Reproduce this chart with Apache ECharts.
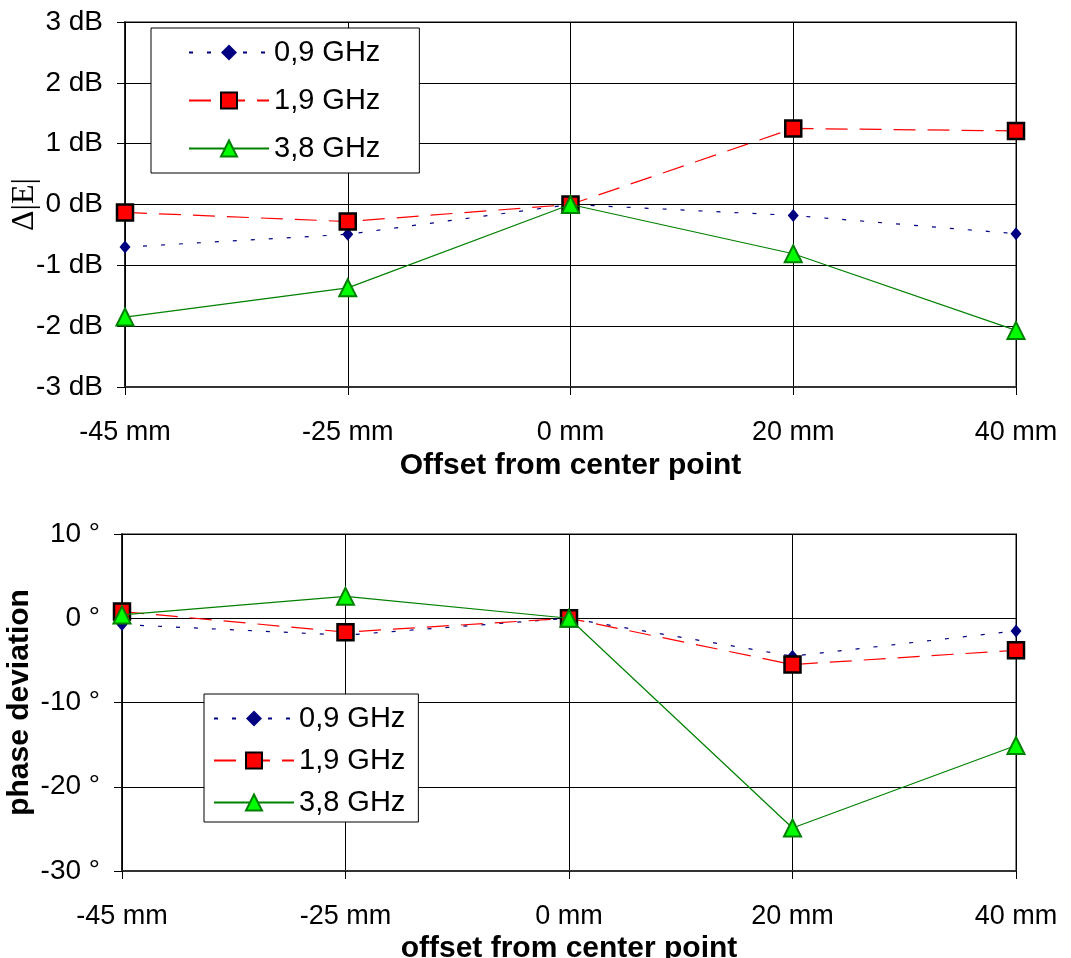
<!DOCTYPE html>
<html>
<head>
<meta charset="utf-8">
<script src="https://cdn.jsdelivr.net/npm/echarts@6/dist/echarts.min.js"></script>
<style>
  html, body { margin: 0; padding: 0; background: #fff; }
  #chart { width: 1071px; height: 958px; }
</style>
</head>
<body>
<div id="chart"></div>
<script>
// offsets from the center point
const offsets = ['-45 mm', '-25 mm', '0 mm', '20 mm', '40 mm'];
const seriesNames = ['0,9 GHz', '1,9 GHz', '3,8 GHz'];

// field magnitude deviation (dB)
const ampl09 = [-0.70, -0.49, 0, -0.18, -0.48];
const ampl19 = [-0.13, -0.28, 0, 1.25, 1.21];
const ampl38 = [-1.85, -1.37, 0, -0.81, -2.07];

// phase deviation (degrees)
const phase09 = [-0.75, -2.0, 0, -4.5, -1.5];
const phase19 = [0.8, -1.65, 0, -5.5, -3.8];
const phase38 = [0.4, 2.6, 0, -24.9, -15.1];

const ampTicks = { min: -3, max: 3, step: 1, unit: ' dB' };
const phaseTicks = { min: -30, max: 10, step: 10, unit: ' °' };

const sans = 'Liberation Sans, Arial, sans-serif';

// line look per frequency
const styles = [
    {
        symbol: 'diamond', symbolSize: [11, 13],
        lineStyle: { color: '#000080', width: 1.2, type: [4, 14] },
        itemStyle: { color: '#000080', borderWidth: 0 }
    },
    {
        symbol: 'rect', symbolSize: 16,
        lineStyle: { color: '#ff0000', width: 1.2, type: [22, 12] },
        itemStyle: { color: '#ff0000', borderColor: '#000', borderWidth: 2.5 }
    },
    {
        symbol: 'triangle', symbolSize: 17,
        lineStyle: { color: '#008000', width: 1.2, type: 'solid' },
        itemStyle: { color: '#00ff00', borderColor: '#008000', borderWidth: 2 }
    }
];

const makeSeries = (data, idx, axis) => Object.assign({
    name: seriesNames[idx],
    type: 'line',
    xAxisIndex: axis,
    yAxisIndex: axis,
    data: data,
    showAllSymbol: true,
    animation: false,
    z: 3 + idx
}, styles[idx]);

const xAxisBase = (idx, title, gap) => ({
    type: 'category',
    gridIndex: idx,
    data: offsets,
    boundaryGap: false,
    axisLine: { onZero: false, lineStyle: { color: '#333', width: 2 } },
    axisTick: { alignWithLabel: true, length: 8, lineStyle: { color: '#000' } },
    axisLabel: { fontSize: 27, fontFamily: sans, color: '#000', margin: 32 },
    splitLine: { show: true, lineStyle: { color: '#000', width: 1 } },
    name: title,
    nameLocation: 'middle',
    nameGap: gap,
    nameMoveOverlap: false,
    nameTextStyle: { fontSize: 30, fontWeight: 'bold', fontFamily: sans, color: '#000' }
});

const yAxisBase = (idx, ticks, nameOpt) => Object.assign({
    type: 'value',
    gridIndex: idx,
    min: ticks.min,
    max: ticks.max,
    interval: ticks.step,
    axisLine: { show: true, lineStyle: { color: '#000', width: 1.5 } },
    axisTick: { show: true, length: 8, lineStyle: { color: '#000' } },
    axisLabel: {
        fontSize: 28, fontFamily: sans, color: '#000', margin: 22,
        formatter: v => v + ticks.unit
    },
    splitLine: { show: true, lineStyle: { color: '#000', width: 1 } },
    nameLocation: 'middle',
    nameRotate: 90,
    nameMoveOverlap: false
}, nameOpt);

const legendBase = (pos) => Object.assign({
    orient: 'vertical',
    data: seriesNames,
    itemWidth: 80,
    itemHeight: 20,
    backgroundColor: '#fff',
    borderColor: '#000',
    borderWidth: 1,
    textStyle: { fontSize: 29, fontFamily: sans, color: '#000' },
    selectedMode: false
}, pos);

const option = {
    backgroundColor: '#fff',
    animation: false,
    grid: [
        { left: 125, right: 55, top: 22, height: 365, show: true, borderColor: '#888', borderWidth: 2,
          containLabel: false, outerBoundsMode: 'none' },
        { left: 122, right: 55, top: 534, height: 337, show: true, borderColor: '#888', borderWidth: 2,
          containLabel: false, outerBoundsMode: 'none' }
    ],
    legend: [
        legendBase({ left: 151, top: 28, padding: [10, 39, 10, 37], itemGap: 19 }),
        legendBase({ left: 204, top: 694, padding: [10, 13, 5, 9], itemGap: 13 })
    ],
    xAxis: [
        xAxisBase(0, 'Offset from center point', 64),
        xAxisBase(1, 'offset from center point', 63)
    ],
    yAxis: [
        yAxisBase(0, ampTicks, {
            name: 'Δ|E|', nameGap: 84,
            nameTextStyle: { fontSize: 32, fontFamily: 'Liberation Serif, Times New Roman, serif', color: '#000' }
        }),
        yAxisBase(1, phaseTicks, {
            name: 'phase deviation', nameGap: 87,
            nameTextStyle: { fontSize: 30, fontWeight: 'bold', fontFamily: sans, color: '#000' }
        })
    ],
    series: [
        makeSeries(ampl09, 0, 0),
        makeSeries(ampl19, 1, 0),
        makeSeries(ampl38, 2, 0),
        makeSeries(phase09, 0, 1),
        makeSeries(phase19, 1, 1),
        makeSeries(phase38, 2, 1)
    ]
};

const chart = echarts.init(document.getElementById('chart'));
chart.setOption(option);
</script>
</body>
</html>
